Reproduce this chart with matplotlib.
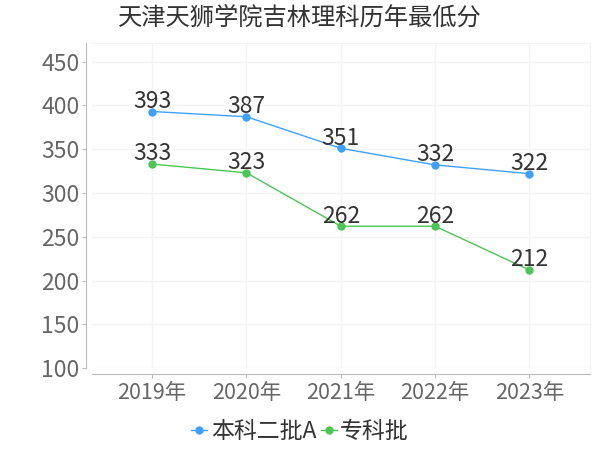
import matplotlib
matplotlib.use('Agg')
import matplotlib.pyplot as plt

plt.rcParams['font.family'] = ['Noto Sans CJK SC', 'DejaVu Sans']

years = ['2019年', '2020年', '2021年', '2022年', '2023年']
benke = [393, 387, 351, 332, 322]
zhuanke = [333, 323, 262, 262, 212]
names = ['本科二批A', '专科批']
colors = ['#3fa0ff', '#4cc655']
yticks = [100, 150, 200, 250, 300, 350, 400, 450]

fig = plt.figure(figsize=(6, 4.5), dpi=100)
ax = fig.add_axes([0.153, 0.182, 0.83, 0.722])

x = list(range(len(years)))
for vals, name, col in zip([benke, zhuanke], names, colors):
    ax.plot(x, vals, color=col, lw=1, marker='o', ms=5, label=name)
    for xi, v in zip(x, vals):
        ax.annotate(str(v), (xi, v), xytext=(0, -1), textcoords='offset points',
                    ha='center', va='bottom', fontsize=16.5, color='#333333')

ax.set_xlim(-0.64, 4.64)
ax.set_ylim(100, 471)
ax.set_xticks(x)
ax.set_xticklabels(years)
ax.set_yticks(yticks)
ax.tick_params(axis='both', colors='#bbbbbb', labelcolor='#666666', labelsize=16.5,
               length=3, pad=2)
ax.tick_params(axis='x', labelsize=15.5, pad=3)
ax.grid(True, color='#f3f3f3', lw=1)
ax.set_axisbelow(True)

for s in ['top', 'right']:
    ax.spines[s].set_color('#f3f3f3')
for s in ['left', 'bottom']:
    ax.spines[s].set_color('#bbbbbb')
    ax.spines[s].set_position(('outward', 4))

fig.text(0.5, 0.96, '天津天狮学院吉林理科历年最低分', ha='center', va='center',
         fontsize=17.5, color='#333333')

fig.legend(loc='center', bbox_to_anchor=(0.5, 0.04), ncol=2, frameon=False,
           fontsize=16.5, handlelength=0.7, handletextpad=0.15, columnspacing=0.2,
           labelcolor='#333333')

fig.savefig('out.png', dpi=100)
